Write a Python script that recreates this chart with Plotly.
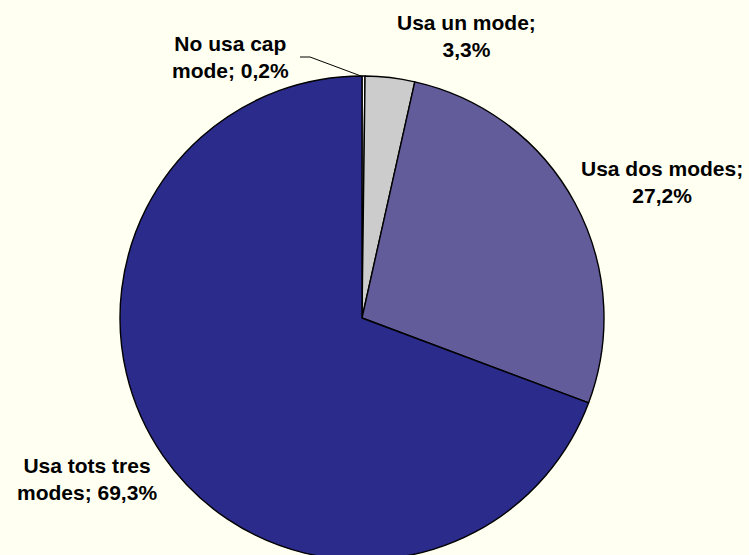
import plotly.graph_objects as go

labels = ["No usa cap mode", "Usa un mode", "Usa dos modes", "Usa tots tres modes"]
values = [0.2, 3.3, 27.2, 69.3]
label_line1 = ["No usa cap", "Usa un mode;", "Usa dos modes;", "Usa tots tres"]
label_line2 = ["mode; 0,2%", "3,3%", "27,2%", "modes; 69,3%"]
colors = ["#FFFFFF", "#CCCCCC", "#625C9A", "#2B2B8C"]

W, H = 749, 565  # figure slightly taller than the 555 window: pie bottom runs past the edge
cx, cy, r = 362, 318, 242

fig = go.Figure()
fig.add_trace(go.Pie(
    labels=labels, values=values, sort=False, direction="clockwise", rotation=0,
    textinfo="none", hoverinfo="label+percent",
    marker=dict(colors=colors, line=dict(color="#000000", width=1.4)),
    domain=dict(x=[(cx - r) / W, (cx + r) / W], y=[(H - cy - r) / H, (H - cy + r) / H]),
    showlegend=False,
))

label_pos = [(231, 57), (466, 36), (662, 182), (87, 479)]
for l1, l2, (lx, ly) in zip(label_line1, label_line2, label_pos):
    fig.add_annotation(x=lx / W, y=1 - ly / H, xref="paper", yref="paper",
                       xanchor="center", yanchor="middle",
                       text=f"<b>{l1}</b><br><b>{l2}</b>",
                       showarrow=False, align="center",
                       font=dict(family="Liberation Sans, Arial", size=21, color="#000000"))

# leader line for smallest slice
fig.add_shape(type="path", xref="paper", yref="paper",
              path=f"M {300/W} {1-57/H} L {310/W} {1-57/H} L {361/W} {1-76/H}",
              line=dict(color="#000000", width=1))

fig.update_layout(width=W, height=H, margin=dict(l=0, r=0, t=0, b=0),
                  paper_bgcolor="#FFFFF2", plot_bgcolor="#FFFFF2",
                  font=dict(family="Liberation Sans, Arial"))
fig.write_html("out.html", config={"displayModeBar": False},
               post_script="document.body.style.margin='0';document.body.style.overflow='hidden';")
